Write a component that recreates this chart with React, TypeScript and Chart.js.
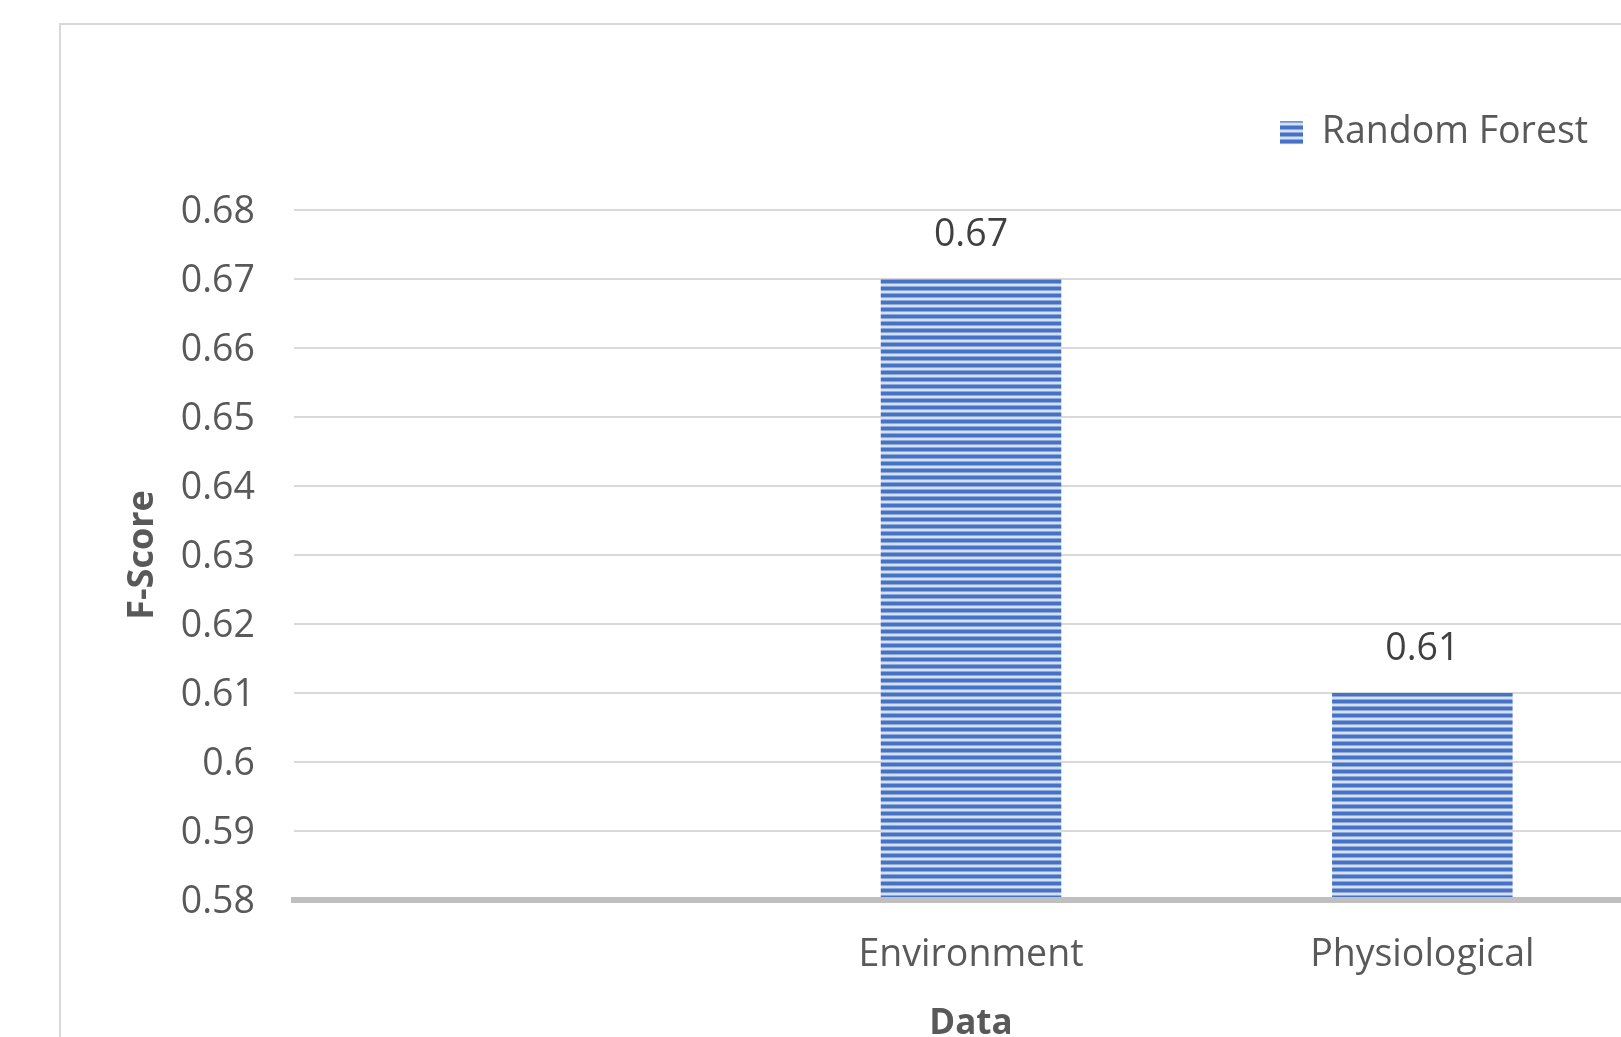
import React, { useEffect, useRef } from "react";
import { Chart, registerables } from "chart.js";

Chart.register(...registerables);

// ---- data ----
const categories: string[] = ["", "Environment", "Physiological"];
const seriesName = "Random Forest";
const fScores: (number | null)[] = [null, 0.67, 0.61];
const yMin = 0.58;
const yMax = 0.68;
const yStep = 0.01;
const xTitle = "Data";
const yTitle = "F-Score";

const CANVAS_W = 1700;
const CANVAS_H = 1100;
const FONT = "'Open Sans', sans-serif";
const LABEL_SIZE = 37.5;

export default function App() {
  const ref = useRef<HTMLCanvasElement | null>(null);

  useEffect(() => {
    const canvas = ref.current;
    if (!canvas) return;
    const ctx = canvas.getContext("2d")!;

    // striped fill pattern (narrow horizontal)
    const off = document.createElement("canvas");
    off.width = 4;
    off.height = 7;
    const octx = off.getContext("2d")!;
    const rows = ["#4472c4", "#4472c4", "#4472c4", "#8ea8da", "#d6e0f2", "#d6e0f2", "#8ea8da"];
    rows.forEach((c, i) => {
      octx.fillStyle = c;
      octx.fillRect(0, i, 4, 1);
    });
    const pattern = ctx.createPattern(off, "repeat")!;

    const valueLabels = {
      id: "valueLabels",
      afterDatasetsDraw(chart: any) {
        const c = chart.ctx;
        const meta = chart.getDatasetMeta(0);
        c.save();
        c.font = `${LABEL_SIZE}px ${FONT}`;
        c.fillStyle = "#404040";
        c.textAlign = "center";
        c.textBaseline = "middle";
        meta.data.forEach((el: any, i: number) => {
          const v = chart.data.datasets[0].data[i];
          if (v == null) return;
          c.fillText(String(v), el.x, el.y - 44);
        });
        c.restore();
      },
    };

    const legendPlace = {
      id: "legendPlace",
      afterLayout(chart: any) {
        const lg = chart.legend;
        if (!lg) return;
        const x = 1270;
        const y = 104;
        const w = lg.width;
        const h = lg.height;
        lg.left = x;
        lg.top = y;
        lg.right = x + w;
        lg.bottom = y + h;
      },
    };

    const chart = new Chart(canvas, {
      type: "bar",
      data: {
        labels: categories,
        datasets: [
          {
            label: seriesName,
            data: fScores,
            backgroundColor: pattern,
            borderWidth: 0,
            categoryPercentage: 1,
            barPercentage: 0.4,
          },
        ],
      },
      options: {
        responsive: false,
        animation: false,
        devicePixelRatio: 1,
        layout: { padding: { left: 118, right: 52, top: 210, bottom: 50 } },
        font: { family: FONT },
        plugins: {
          legend: {
            position: "chartArea" as any,
            align: "start",
            labels: {
              boxWidth: 23,
              boxHeight: 23,
              padding: 10,
              color: "#595959",
              font: { family: FONT, size: LABEL_SIZE },
            },
          },
          tooltip: { enabled: false },
        },
        scales: {
          x: {
            type: "category",
            grid: { display: false, drawTicks: false },
            border: { display: true, color: "#bfbfbf", width: 6, z: 1 },
            ticks: {
              color: "#595959",
              font: { family: FONT, size: LABEL_SIZE },
              padding: 33,
            },
            title: {
              display: true,
              text: xTitle,
              color: "#595959",
              font: { family: FONT, size: 35, weight: "bold" },
              padding: { top: 0, bottom: 5 },
            },
            afterFit(s: any) {
              s.height = 150;
            },
          },
          y: {
            min: yMin,
            max: yMax,
            grid: { color: "#d9d9d9", lineWidth: 2, drawTicks: false },
            border: { display: false },
            ticks: {
              stepSize: yStep,
              color: "#595959",
              font: { family: FONT, size: LABEL_SIZE },
              padding: 39,
              labelOffset: 2,
              callback: (v: any) => String(Number(Number(v).toFixed(2))),
            },
            title: {
              display: true,
              text: yTitle,
              color: "#595959",
              font: { family: FONT, size: 36, weight: "bold" },
              padding: { top: 3, bottom: 0 },
            },
            afterFit(s: any) {
              s.width = 294 - 118;
            },
          },
        },
      },
      plugins: [valueLabels, legendPlace],
    });

    return () => chart.destroy();
  }, []);

  return (
    <div style={{ position: "fixed", inset: 0, overflow: "hidden", background: "#fff" }}>
      <div
        style={{
          position: "absolute",
          left: 59,
          top: 23,
          width: 2000,
          height: 2000,
          border: "2px solid #d9d9d9",
          boxSizing: "border-box",
        }}
      />
      <canvas
        ref={ref}
        width={CANVAS_W}
        height={CANVAS_H}
        style={{ position: "absolute", left: 0, top: 0, width: CANVAS_W, height: CANVAS_H }}
      />
    </div>
  );
}
